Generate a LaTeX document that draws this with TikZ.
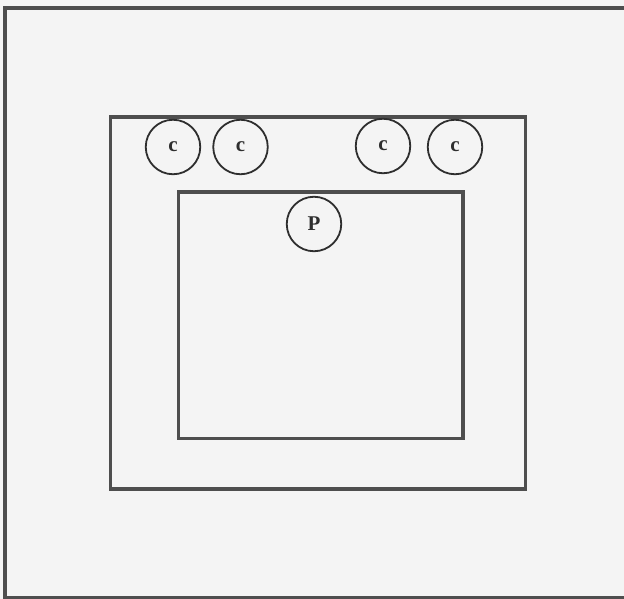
\documentclass[tikz,border=0pt]{standalone}
\usepackage{fontspec}
\setmainfont{Liberation Serif}
\definecolor{bgc}{HTML}{F4F4F4}
\definecolor{linec}{HTML}{4E4E4E}
\definecolor{circc}{HTML}{2E2E2E}
\begin{document}
\begin{tikzpicture}[x=1pt,y=-1pt,
  box/.style={draw=linec,line width=3.5pt},
  comp/.style={circle,draw=circc,line width=1.8pt,minimum size=54.5pt,inner sep=0pt,font=\fontsize{21}{21}\selectfont\bfseries,text=circc}]
\fill[bgc] (0,0) rectangle (624,599);
\useasboundingbox (0,0) rectangle (624,599);
\draw[box,line width=3.2pt] (5,8) rectangle (630,597.5);
\draw[box] (110.5,117) rectangle (525.5,489);
\draw[box] (178.5,192) rectangle (463,438.5);
\node[comp] (c1) at (173,147) {c};
\node[comp] (c2) at (240.5,147) {c};
\node[comp] (c3) at (383,146) {c};
\node[comp] (c4) at (455,147) {c};
\node[comp] (p) at (314,224) {P};
\end{tikzpicture}
\end{document}
